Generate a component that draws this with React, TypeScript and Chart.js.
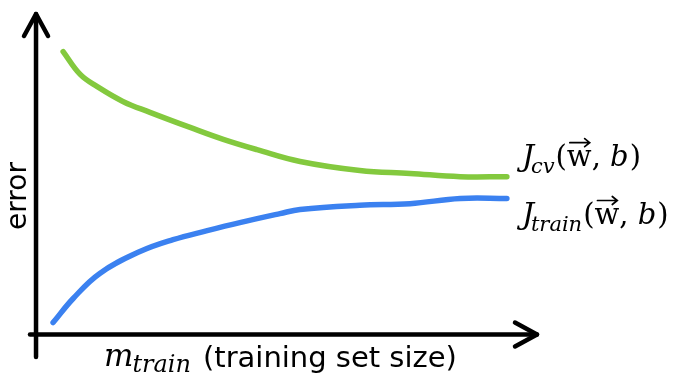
import React, { useEffect, useRef } from "react";
import { Chart, registerables } from "chart.js";

Chart.register(...registerables);

// Learning-curve data (x = training set size, y = error)
const trainSizeCv = [5.4, 8.8, 12.2, 17.3, 22.7, 30.7, 37.3, 44.0, 52.6, 64.5, 74.5, 84.5, 93.8];
const errorCv = [88.0, 80.9, 77.1, 72.5, 69.1, 64.4, 60.7, 57.5, 53.8, 51.0, 50.1, 49.1, 49.1];
const trainSizeTrain = [3.4, 7.4, 12.7, 20.7, 27.3, 34.1, 40.6, 48.6, 52.6, 64.5, 74.5, 84.5, 93.8];
const errorTrain = [3.7, 11.2, 19.0, 25.8, 29.5, 32.3, 34.8, 37.6, 38.9, 40.2, 40.7, 42.3, 42.3];
const seriesSubscripts = ["cv", "train"];
const xLabelSub = "train";
const xLabelText = "(training set size)";
const yLabelText = "error";

const GREEN = "rgb(131,201,62)";
const BLUE = "rgb(59,129,240)";
const MATH_FONT = "'DejaVu Serif'";
const SANS_FONT = "'DejaVu Sans'";

type Part = { t: string; font: string; dy?: number; dx?: number; vec?: boolean };

function drawParts(ctx: CanvasRenderingContext2D, x: number, baseline: number, parts: Part[]) {
  let cx = x;
  for (const p of parts) {
    ctx.font = p.font;
    cx += p.dx || 0;
    ctx.fillText(p.t, cx, baseline + (p.dy || 0));
    const w = ctx.measureText(p.t).width;
    if (p.vec) {
      const ay = baseline - 23;
      const x1 = cx + 3;
      const x2 = cx + w - 2;
      ctx.save();
      ctx.strokeStyle = "#000";
      ctx.lineWidth = 1.7;
      ctx.lineCap = "round";
      ctx.beginPath();
      ctx.moveTo(x1, ay);
      ctx.lineTo(x2, ay);
      ctx.moveTo(x2 - 5, ay - 4);
      ctx.lineTo(x2, ay);
      ctx.lineTo(x2 - 5, ay + 4);
      ctx.stroke();
      ctx.restore();
    }
    cx += w;
  }
  return cx;
}

function mathLabel(sub: string): Part[] {
  return [
    { t: "J", font: `italic 30px ${MATH_FONT}` },
    { t: sub, font: `italic 21px ${MATH_FONT}`, dy: 7, dx: -3 },
    { t: "(", font: `29px ${MATH_FONT}`, dx: 1 },
    { t: "w", font: `29px ${MATH_FONT}`, vec: true },
    { t: ", ", font: `29px ${MATH_FONT}` },
    { t: "b", font: `italic 29px ${MATH_FONT}` },
    { t: ")", font: `29px ${MATH_FONT}`, dx: 1 },
  ];
}

const sketchPlugin = {
  id: "sketchAxes",
  beforeDatasetsDraw(chart: any) {
    const ctx: CanvasRenderingContext2D = chart.ctx;
    const xs = chart.scales.x;
    const ys = chart.scales.y;
    const x0 = xs.getPixelForValue(0);
    const y0 = ys.getPixelForValue(0);
    const xMinP = xs.getPixelForValue(xs.min);
    const xMaxP = xs.getPixelForValue(xs.max);
    const yMinP = ys.getPixelForValue(ys.min);
    const yMaxP = ys.getPixelForValue(ys.max);
    ctx.save();
    ctx.strokeStyle = "#000";
    ctx.lineWidth = 4.5;
    ctx.lineCap = "round";
    ctx.lineJoin = "round";
    // y axis
    ctx.beginPath();
    ctx.moveTo(x0, yMinP);
    ctx.lineTo(x0, yMaxP + 1);
    ctx.stroke();
    ctx.beginPath();
    ctx.moveTo(x0 - 12, yMaxP + 23);
    ctx.lineTo(x0, yMaxP + 1);
    ctx.lineTo(x0 + 12, yMaxP + 23);
    ctx.stroke();
    // x axis
    ctx.beginPath();
    ctx.moveTo(xMinP, y0);
    ctx.lineTo(xMaxP - 1, y0);
    ctx.stroke();
    ctx.beginPath();
    ctx.moveTo(xMaxP - 23, y0 - 12);
    ctx.lineTo(xMaxP - 1, y0);
    ctx.lineTo(xMaxP - 23, y0 + 12);
    ctx.stroke();

    ctx.fillStyle = "#000";
    ctx.textBaseline = "alphabetic";
    ctx.textAlign = "left";
    // x label
    const xl = drawParts(ctx, 104, 366, [
      { t: "m", font: `italic 31px ${MATH_FONT}` },
      { t: xLabelSub, font: `italic 24px ${MATH_FONT}`, dy: 6, dx: -1 },
    ]);
    ctx.font = `29px ${SANS_FONT}`;
    ctx.fillText(xLabelText, xl + 12, 367);
    // y label
    ctx.save();
    ctx.translate(26, 196);
    ctx.rotate(-Math.PI / 2);
    ctx.font = `28px ${SANS_FONT}`;
    ctx.textAlign = "center";
    ctx.fillText(yLabelText, 0, 0);
    ctx.restore();
    ctx.restore();
  },
  afterDatasetsDraw(chart: any) {
    const ctx: CanvasRenderingContext2D = chart.ctx;
    ctx.save();
    ctx.fillStyle = "#000";
    ctx.textAlign = "left";
    ctx.textBaseline = "alphabetic";
    const offsets = [-11, 25];
    chart.data.datasets.forEach((ds: any, i: number) => {
      const meta = chart.getDatasetMeta(i);
      const last = meta.data[meta.data.length - 1];
      drawParts(ctx, last.x + 15, last.y + offsets[i], mathLabel(seriesSubscripts[i]));
    });
    ctx.restore();
  },
};

export default function App() {
  const ref = useRef<HTMLCanvasElement | null>(null);
  useEffect(() => {
    if (!ref.current) return;
    const common = {
      showLine: true,
      borderWidth: 5.5,
      pointRadius: 0,
      tension: 0.4,
      borderCapStyle: "round",
      borderJoinStyle: "round",
    };
    const chart = new Chart(ref.current, {
      type: "scatter",
      data: {
        datasets: [
          {
            label: "J_cv",
            data: trainSizeCv.map((x, i) => ({ x, y: errorCv[i] })),
            borderColor: GREEN,
            ...common,
          },
          {
            label: "J_train",
            data: trainSizeTrain.map((x, i) => ({ x, y: errorTrain[i] })),
            borderColor: BLUE,
            ...common,
          },
        ],
      },
      options: {
        responsive: false,
        animation: false,
        layout: { padding: { left: 30, right: 160, top: 13, bottom: 25 } },
        plugins: { legend: { display: false }, tooltip: { enabled: false }, title: { display: false } },
        scales: {
          x: { type: "linear", min: -1.2, max: 100, display: false },
          y: { type: "linear", min: -7, max: 100, display: false },
        },
      },
      plugins: [sketchPlugin],
    } as any);
    return () => chart.destroy();
  }, []);
  return (
    <div style={{ position: "fixed", left: 0, top: 0, width: 698, height: 382, background: "#fff" }}>
      <canvas ref={ref} width={698} height={382} style={{ display: "block" }} />
    </div>
  );
}
